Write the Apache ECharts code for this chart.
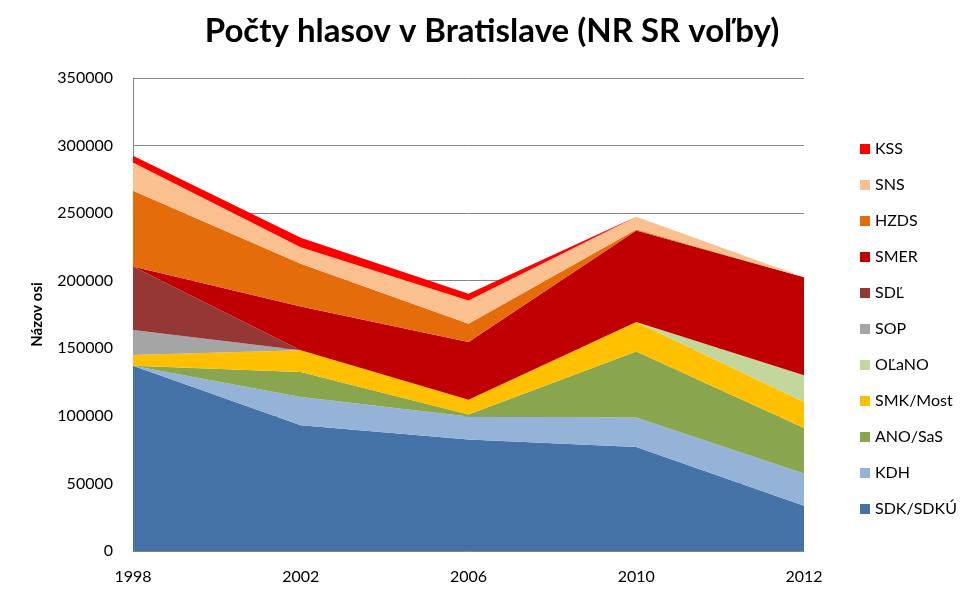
<!DOCTYPE html>
<html>
<head>
<meta charset="utf-8">
<script src="https://cdn.jsdelivr.net/npm/echarts@6/dist/echarts.min.js"></script>
<style>
  html, body { margin: 0; padding: 0; background: #fff; }
  #chart { width: 970px; height: 598px; }
</style>
</head>
<body>
<div id="chart"></div>
<script>
// roky volieb
var years = ['1998', '2002', '2006', '2010', '2012'];

// pocty hlasov (odcitane z grafu)
var sdk   = [137000, 93000, 82500, 77000, 33500];
var kdh   = [0, 21000, 17000, 21700, 23900];
var anoSas = [0, 18500, 1500, 49000, 33700];
var smkMost = [8000, 16000, 11000, 21700, 19200];
var olano = [0, 0, 0, 0, 19700];
var sop   = [18500, 0, 0, 0, 0];
var sdl   = [47000, 0, 0, 0, 0];
var smer  = [0, 32500, 42600, 67700, 72600];
var hzds  = [56000, 31500, 13600, 800, 0];
var sns   = [21000, 12300, 17200, 9500, 0];
var kss   = [5000, 7000, 5000, 0, 0];

var yTicks = [0, 50000, 100000, 150000, 200000, 250000, 300000, 350000];

// poradie stohovania zdola nahor
var parties = [
	{name: 'SDK/SDKÚ', data: sdk, color: '#4572a7'},
	{name: 'KDH', data: kdh, color: '#95b3d7'},
	{name: 'ANO/SaS', data: anoSas, color: '#89a54e'},
	{name: 'SMK/Most', data: smkMost, color: '#ffc000'},
	{name: 'OĽaNO', data: olano, color: '#c3d69b'},
	{name: 'SOP', data: sop, color: '#a5a5a5'},
	{name: 'SDĽ', data: sdl, color: '#953735'},
	{name: 'SMER', data: smer, color: '#c00000'},
	{name: 'HZDS', data: hzds, color: '#e46c0a'},
	{name: 'SNS', data: sns, color: '#fac090'},
	{name: 'KSS', data: kss, color: '#ff0000'}
];

var series = [];
var legendNames = [];
for (var i = 0; i < parties.length; i++) {
	series.push({
		name: parties[i].name,
		type: 'line',
		stack: 'hlasy',
		data: parties[i].data,
		showSymbol: false,
		symbol: 'none',
		lineStyle: {width: 0},
		areaStyle: {color: parties[i].color, opacity: 1},
		itemStyle: {color: parties[i].color},
		z: 2
	});
	legendNames.unshift(parties[i].name); // legenda zhora nadol
}

var font = 'Lato, "Open Sans", sans-serif';

var option = {
	animation: false,
	title: {
		text: 'Počty hlasov v Bratislave (NR SR voľby)',
		left: 487,
		textAlign: 'center',
		top: 10,
		textStyle: {fontFamily: font, fontSize: 33, fontWeight: 'bold', color: '#000'}
	},
	legend: {
		data: legendNames,
		orient: 'vertical',
		left: 855,
		top: 136,
		itemWidth: 10,
		itemHeight: 10,
		itemGap: 20,
		icon: 'rect',
		textStyle: {fontFamily: font, fontSize: 16, color: '#000', lineHeight: 16}
	},
	grid: {left: 133, right: 166, top: 78, bottom: 47},
	xAxis: {
		type: 'category',
		boundaryGap: false,
		data: years,
		axisLine: {lineStyle: {color: '#868686'}},
		axisTick: {show: false},
		axisLabel: {fontFamily: font, fontSize: 16, color: '#000', margin: 18}
	},
	yAxis: {
		type: 'value',
		min: yTicks[0],
		max: yTicks[yTicks.length - 1],
		interval: 50000,
		name: 'Názov osi',
		nameLocation: 'middle',
		nameGap: 88,
		nameTextStyle: {fontFamily: font, fontSize: 15, fontWeight: 'bold', color: '#000'},
		axisLine: {show: true, lineStyle: {color: '#868686'}},
		axisTick: {show: false},
		axisLabel: {
			fontFamily: font, fontSize: 16, color: '#000', margin: 20,
			formatter: function (v) { return String(v); }
		},
		splitLine: {lineStyle: {color: '#868686', width: 1}}
	},
	series: series
};

var myChart = echarts.init(document.getElementById('chart'));
myChart.setOption(option);
</script>
</body>
</html>
